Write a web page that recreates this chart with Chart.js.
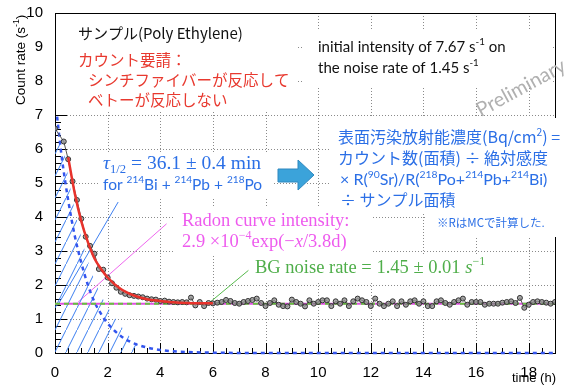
<!DOCTYPE html>
<html>
<head>
<meta charset="utf-8">
<script src="https://cdn.jsdelivr.net/npm/chart.js@4.4.0/dist/chart.umd.min.js"></script>
<style>
  html, body { margin: 0; padding: 0; background: #fff; }
  #wrap { width: 578px; height: 385px; position: relative; }
</style>
</head>
<body>
<div id="wrap"><canvas id="c" width="578" height="385"></canvas></div>
<script>
// measured count rate, one point per 10 min bin (time in minutes)
const minutes = [0,
  20,30,40,50,60,70,80,90,100,110,
  120,130,140,150,160,170,180,190,200,210,
  220,230,240,250,260,270,280,290,300,310,
  320,330,340,350,360,370,380,390,400,410,
  420,430,440,450,460,470,480,490,500,510,
  520,530,540,550,560,570,580,590,600,610,
  620,630,640,650,660,670,680,690,700,710,
  720,730,740,750,760,770,780,790,800,810,
  820,830,840,850,860,870,880,890,900,910,
  920,930,940,950,960,970,980,990,1000,1010,
  1020,1030,1040,1050,1060,1070,1080,1090,1100,1110,
  1120,1130,1140];
const rates = [6.60,
  6.22,5.70,5.05,4.50,3.95,3.42,3.15,2.92,2.47,2.45,
  2.22,2.05,1.92,1.80,1.74,1.70,1.68,1.66,1.64,1.60,
  1.58,1.57,1.53,1.54,1.51,1.50,1.49,1.50,1.49,1.63,
  1.40,1.50,1.38,1.47,1.46,1.48,1.50,1.56,1.53,1.47,
  1.45,1.50,1.53,1.56,1.60,1.47,1.38,1.47,1.55,1.42,
  1.38,1.37,1.57,1.50,1.45,1.37,1.55,1.45,1.50,1.55,
  1.55,1.38,1.52,1.45,1.55,1.38,1.52,1.60,1.55,1.50,
  1.38,1.60,1.45,1.38,1.45,1.52,1.38,1.52,1.42,1.52,
  1.55,1.45,1.52,1.38,1.38,1.52,1.55,1.47,1.42,1.50,
  1.55,1.60,1.42,1.50,1.50,1.50,1.42,1.45,1.45,1.45,
  1.48,1.50,1.52,1.47,1.62,1.33,1.42,1.50,1.52,1.50,
  1.48,1.45,1.50];

// fit curve (red)
const fitHours = [0.5,0.75,1,1.25,1.5,1.75,2,2.5,3,3.5,4,4.5,5,6];
const fitRate  = [5.76,4.70,3.87,3.26,2.78,2.47,2.22,1.88,1.69,1.58,1.53,1.49,1.47,1.46];

// decay component (blue dashed)
const decayHours = [0.08,0.25,0.5,0.75,1,1.25,1.5,1.75,2,2.5,3,3.5,4,4.5,5,6,8,19];
const decayRate  = [6.95,5.8,4.5,3.45,2.65,2.0,1.5,1.15,0.87,0.5,0.28,0.16,0.09,0.05,0.03,0.01,0,0];

// hatched area top edge
const hatchHours = [0,0.25,0.5,0.75,1,1.25,1.5,1.75,2,2.25,2.5,2.75,3,3.2,3.3];
const hatchTop   = [6.9,6.3,5.2,4.2,3.4,2.7,2.15,1.7,1.35,1.05,0.8,0.55,0.35,0.2,0];

// BG noise level
const bgHours = [0,19];
const bgRate  = [1.45,1.45];

// annotation pointer lines
const tauPointer   = { x: [0.1,2.4],  y: [1.4,4.44] };
const radonPointer = { x: [0.88,4.24], y: [1.5,3.8] };
const bgPointer    = { x: [5.9,7.35], y: [1.5,2.43] };

const xTicks = [0,2,4,6,8,10,12,14,16,18];
const yTicks = [0,1,2,3,4,5,6,7,8,9,10];

const pts = (xs, ys) => xs.map((x, i) => ({ x: x, y: ys[i] }));

function hatchPattern() {
  const c = document.createElement('canvas');
  c.width = 11; c.height = 22;
  const g = c.getContext('2d');
  g.strokeStyle = '#3d7ff0';
  g.lineWidth = 1;
  g.beginPath();
  g.moveTo(-1, 24); g.lineTo(12, -2);
  g.stroke();
  return g.createPattern(c, 'repeat');
}

const BLUE = '#2b6fe6';
const SERIF = '"Liberation Serif", "DejaVu Serif", serif';
const SANS = '"Lato", "Liberation Sans", sans-serif';
const JP = '"Noto Sans CJK JP", sans-serif';
const HELV = '"Liberation Sans", Arial, sans-serif';

function runs(ctx, x, y, parts, size, family, color) {
  ctx.fillStyle = color;
  ctx.textBaseline = 'middle';
  ctx.textAlign = 'left';
  parts.forEach(p => {
    const o = typeof p === 'string' ? { t: p } : p;
    const s = (o.sup || o.sub) ? size * 0.65 : size;
    ctx.font = (o.italic ? 'italic ' : '') + s + 'px ' + (o.family || family);
    const dy = o.sup ? -size * 0.32 : o.sub ? size * 0.28 : 0;
    ctx.fillText(o.t, x, y + dy);
    x += ctx.measureText(o.t).width;
  });
}

// white label boxes that hide the grid
const boxes = [
  [56, 16, 240, 94],
  [302, 30, 250, 56],
  [100, 152, 172, 47],
  [175, 207, 197, 48],
  [250, 256, 250, 26],
  [330, 118, 248, 96],
  [425, 212, 135, 25]
];

const framePlugin = {
  id: 'frame',
  beforeDatasetsDraw(chart) {
    const { ctx, chartArea: a, scales: { x, y } } = chart;
    ctx.save();
    // dotted grid
    ctx.strokeStyle = '#8a8a8a';
    ctx.lineWidth = 1;
    ctx.setLineDash([1, 2]);
    xTicks.slice(1).forEach(v => {
      const px = Math.round(x.getPixelForValue(v)) + 0.5;
      ctx.beginPath(); ctx.moveTo(px, a.top); ctx.lineTo(px, a.bottom); ctx.stroke();
    });
    yTicks.slice(1, -1).forEach(v => {
      const py = Math.round(y.getPixelForValue(v)) + 0.5;
      ctx.beginPath(); ctx.moveTo(a.left, py); ctx.lineTo(a.right, py); ctx.stroke();
    });
    ctx.setLineDash([]);
    // frame
    ctx.strokeStyle = '#000';
    ctx.strokeRect(Math.round(a.left) + 0.5, Math.round(a.top) + 0.5,
      Math.round(a.right - a.left), Math.round(a.bottom - a.top));
    // ticks
    ctx.beginPath();
    for (let v = 0; v <= 10.001; v += 0.2) {
      const py = Math.round(y.getPixelForValue(v)) + 0.5;
      const major = Math.abs(v - Math.round(v)) < 0.01;
      ctx.moveTo(a.left, py); ctx.lineTo(a.left + (major ? 12 : 6), py);
    }
    for (let v = 0; v <= 19.001; v += 0.5) {
      const px = Math.round(x.getPixelForValue(v)) + 0.5;
      const major = Math.abs(v / 2 - Math.round(v / 2)) < 0.01;
      ctx.moveTo(px, a.bottom); ctx.lineTo(px, a.bottom - (major ? 10 : 5));
    }
    ctx.stroke();
    // label boxes
    ctx.fillStyle = '#fff';
    boxes.forEach(b => ctx.fillRect(b[0], b[1], b[2], b[3]));
    ctx.restore();
  },
  afterDraw(chart) {
    const { ctx, chartArea: a } = chart;
    ctx.save();
    // axis titles
    ctx.fillStyle = '#000';
    ctx.font = '13px ' + HELV;
    ctx.textAlign = 'right';
    ctx.textBaseline = 'middle';
    ctx.fillText('time (h)', a.right + 1, 378);
    ctx.save();
    ctx.translate(21, 8);
    ctx.rotate(-Math.PI / 2);
    runs(ctx, -97, 0, ['Count rate (s', { t: '-1', sup: true }, ')'], 13.5, HELV, '#000');
    ctx.restore();

    // sample
    runs(ctx, 78, 33, ['サンプル(Poly Ethylene)'], 15, JP, '#111');
    runs(ctx, 78, 60, ['カウント要請：'], 15.5, JP, '#e8392f');
    runs(ctx, 88, 80, ['シンチファイバーが反応して'], 15.5, JP, '#e8392f');
    runs(ctx, 88, 100, ['ベトーが反応しない'], 15.5, JP, '#e8392f');

    // initial intensity
    runs(ctx, 318, 47, ['initial intensity of 7.67 s', { t: '-1', sup: true }, ' on'], 15, SANS, '#111');
    runs(ctx, 318, 68, ['the noise rate of 1.45 s', { t: '-1', sup: true }], 15, SANS, '#111');

    // preliminary watermark
    ctx.save();
    ctx.translate(521, 88);
    ctx.rotate(-0.5);
    ctx.fillStyle = '#b0b0b0';
    ctx.font = '20px ' + SANS;
    ctx.textAlign = 'center';
    ctx.textBaseline = 'middle';
    ctx.fillText('Preliminary', 0, 0);
    ctx.restore();

    // half life
    runs(ctx, 103, 164, [{ t: 'τ', italic: true }, { t: '1/2', sub: true }, ' = 36.1 ± 0.4 min'], 19.5, SERIF, BLUE);
    runs(ctx, 103, 185, ['for ', { t: '214', sup: true }, 'Bi + ', { t: '214', sup: true }, 'Pb + ', { t: '218', sup: true }, 'Po'], 15.5, SANS, BLUE);

    // arrow
    ctx.beginPath();
    ctx.moveTo(278, 169); ctx.lineTo(298, 169); ctx.lineTo(298, 160);
    ctx.lineTo(314, 175); ctx.lineTo(298, 190); ctx.lineTo(298, 182);
    ctx.lineTo(278, 182); ctx.closePath();
    ctx.fillStyle = '#3ba3da';
    ctx.fill();
    ctx.strokeStyle = '#2f88bf';
    ctx.lineWidth = 1;
    ctx.stroke();

    // conversion formula
    runs(ctx, 338, 137, ['表面汚染放射能濃度(Bq/cm', { t: '2', sup: true }, ') ='], 16, JP, BLUE);
    runs(ctx, 338, 158, ['カウント数(面積) ÷ 絶対感度'], 16, JP, BLUE);
    runs(ctx, 340, 180, ['× R(', { t: '90', sup: true }, 'Sr)/R(', { t: '218', sup: true }, 'Po+', { t: '214', sup: true }, 'Pb+', { t: '214', sup: true }, 'Bi)'], 16, SANS, BLUE);
    runs(ctx, 340, 200, ['÷ サンプル面積'], 16, JP, BLUE);
    runs(ctx, 437, 223, ['※RはMCで計算した.'], 11.5, JP, BLUE);

    // radon and BG
    runs(ctx, 182, 221, ['Radon curve intensity:'], 18.5, SERIF, '#ee5bee');
    runs(ctx, 182, 242, ['2.9 ×10', { t: '−4', sup: true }, 'exp(−', { t: 'x', italic: true }, '/3.8d)'], 18.5, SERIF, '#ee5bee');
    runs(ctx, 255, 268, ['BG noise rate = 1.45 ± 0.01 ', { t: 's', italic: true }, { t: '−1', sup: true }], 18.5, SERIF, '#4fae4a');
    ctx.restore();
  }
};

const thin = { pointRadius: 0, borderWidth: 1, fill: false };

new Chart(document.getElementById('c'), {
  type: 'line',
  data: {
    datasets: [
      { data: pts(fitHours, fitRate), order: 0, pointRadius: 0, borderColor: '#e8322b', borderWidth: 2.5,
        cubicInterpolationMode: 'monotone' },
      { data: minutes.map((m, i) => ({ x: m / 60, y: rates[i] })), order: 1,
        borderColor: '#555', borderWidth: 1, pointRadius: 2.5,
        pointBackgroundColor: 'rgba(140,140,140,0.75)', pointBorderColor: '#333', pointBorderWidth: 1 },
      { data: pts(bgHours, bgRate), order: 3, pointRadius: 0, borderColor: '#66c23e', borderWidth: 2,
        borderDash: [5, 4] },
      { data: pts(bgHours, bgRate), order: 4, pointRadius: 0, borderColor: '#e050e0', borderWidth: 2 },
      { data: pts(decayHours, decayRate), order: 5, pointRadius: 0, borderColor: '#3355ee', borderWidth: 2.5,
        borderDash: [4, 4], cubicInterpolationMode: 'monotone', clip: false },
      { data: pts(hatchHours, hatchTop), order: 6, pointRadius: 0, borderWidth: 0, borderColor: 'rgba(0,0,0,0)',
        backgroundColor: hatchPattern(), fill: 'origin', cubicInterpolationMode: 'monotone' },
      Object.assign({ data: pts(tauPointer.x, tauPointer.y), order: 7, borderColor: '#3d7ff0' }, thin),
      Object.assign({ data: pts(radonPointer.x, radonPointer.y), order: 7, borderColor: '#ee66ee' }, thin),
      Object.assign({ data: pts(bgPointer.x, bgPointer.y), order: 7, borderColor: '#55b94a' }, thin)
    ]
  },
  options: {
    responsive: false,
    animation: false,
    events: [],
    layout: { padding: { top: 12, right: 23, left: 0, bottom: 0 } },
    plugins: { legend: { display: false }, tooltip: { enabled: false } },
    scales: {
      x: {
        type: 'linear', min: 0, max: 19,
        grid: { display: false }, border: { display: false },
        afterBuildTicks: s => { s.ticks = xTicks.map(v => ({ value: v })); },
        afterFit: s => { s.height = 32; },
        ticks: { autoSkip: false, maxRotation: 0, padding: 3, color: '#000',
          font: { size: 15, family: HELV } }
      },
      y: {
        min: 0, max: 10,
        grid: { display: false }, border: { display: false },
        afterBuildTicks: s => { s.ticks = yTicks.map(v => ({ value: v })); },
        afterFit: s => { s.width = 55; },
        ticks: { padding: 4, color: '#000',
          font: { size: 15, family: HELV } }
      }
    }
  },
  plugins: [framePlugin]
});
</script>
</body>
</html>
